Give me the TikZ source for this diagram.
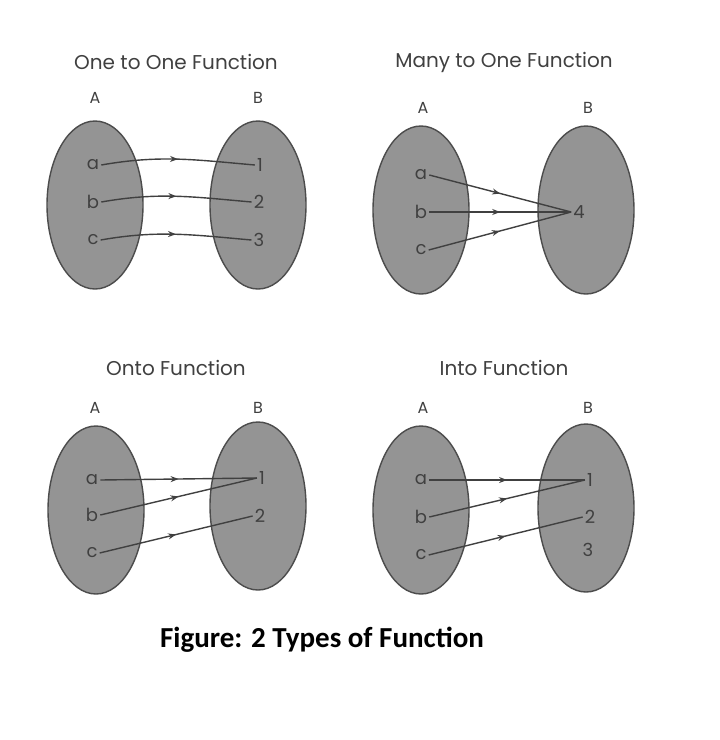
\documentclass[tikz,border=0pt]{standalone}
\usepackage{fontspec}
\setmainfont{Poppins}
\newfontfamily\capfont{Carlito}
\usetikzlibrary{shapes.geometric,decorations.markings,arrows.meta}

\begin{document}
\begin{tikzpicture}[x=1pt,y=-1pt,
  set/.style={shape=ellipse, draw=black!70, fill=black!42, line width=1.4pt, minimum width=96pt, minimum height=168pt},
  elem/.style={text=black!75, font=\fontsize{18}{18}\selectfont, inner sep=2pt},
  head/.style={text=black!75, font=\fontsize{20}{20}\selectfont},
  map/.style={draw=black!75, line width=1.4pt, postaction={decorate}, decoration={markings, mark=at position 0.5 with {\arrow{Stealth[length=8pt]}}}}]
\useasboundingbox (0,0) rectangle (720,740);
\fill[white] (0,0) rectangle (720,740);
% one to one
\node[head] (t1) at (176,62) {One to One Function};
\node[head,font=\fontsize{16}{16}\selectfont] (A1) at (95,98) {A};
\node[head,font=\fontsize{16}{16}\selectfont] (B1) at (258,98) {B};
\node[set] (SA1) at (95,205) {};
\node[set] (SB1) at (258,205) {};
\node[elem] (a1) at (93,165) {a};
\node[elem] (b1) at (93,202) {b};
\node[elem] (c1) at (93,240) {c};
\node[elem] (o1) at (260,165) {1};
\node[elem] (o2) at (259,202) {2};
\node[elem] (o3) at (259,240) {3};
\draw[map] (a1.east) to[out=10, in=175] (o1.west);
\draw[map] (b1.east) to[out=10, in=175] (o2.west);
\draw[map] (c1.east) to[out=10, in=175] (o3.west);
% many to one
\node[head] (t2) at (504,62) {Many to One Function};
\node[head,font=\fontsize{16}{16}\selectfont] (A2) at (423,108) {A};
\node[head,font=\fontsize{16}{16}\selectfont] (B2) at (588,108) {B};
\node[set] (SA2) at (421,210) {};
\node[set] (SB2) at (586,210) {};
\node[elem] (a2) at (421,175) {a};
\node[elem] (b2) at (421,212) {b};
\node[elem] (c2) at (421,250) {c};
\node[elem] (f4) at (579,212) {4};
\draw[map] (a2.east) -- (f4.west);
\draw[map] (b2.east) -- (f4.west);
\draw[map] (c2.east) -- (f4.west);
% onto
\node[head] (t3) at (176,368) {Onto Function};
\node[head,font=\fontsize{16}{16}\selectfont] (A3) at (95,408) {A};
\node[head,font=\fontsize{16}{16}\selectfont] (B3) at (258,408) {B};
\node[set] (SA3) at (96,510) {};
\node[set] (SB3) at (258,506) {};
\node[elem] (a3) at (92,480) {a};
\node[elem] (b3) at (92,515) {b};
\node[elem] (c3) at (92,553) {c};
\node[elem] (p1) at (262,478) {1};
\node[elem] (p2) at (260,516) {2};
\draw[map] (a3.east) -- (p1.west);
\draw[map] (b3.east) -- (p1.west);
\draw[map] (c3.east) -- (p2.west);
% into
\node[head] (t4) at (504,368) {Into Function};
\node[head,font=\fontsize{16}{16}\selectfont] (A4) at (423,408) {A};
\node[head,font=\fontsize{16}{16}\selectfont] (B4) at (588,408) {B};
\node[set] (SA4) at (421,510) {};
\node[set] (SB4) at (586,508) {};
\node[elem] (a4) at (421,480) {a};
\node[elem] (b4) at (421,517) {b};
\node[elem] (c4) at (421,555) {c};
\node[elem] (q1) at (590,480) {1};
\node[elem] (q2) at (590,517) {2};
\node[elem] (q3) at (588,550) {3};
\draw[map] (a4.east) -- (q1.west);
\draw[map] (b4.east) -- (q1.west);
\draw[map] (c4.east) -- (q2.west);
% caption
\node[font=\capfont\bfseries\fontsize{29}{29}\selectfont] (cap) at (322,640) {Figure: 2 Types of Function};
\end{tikzpicture}
\end{document}
